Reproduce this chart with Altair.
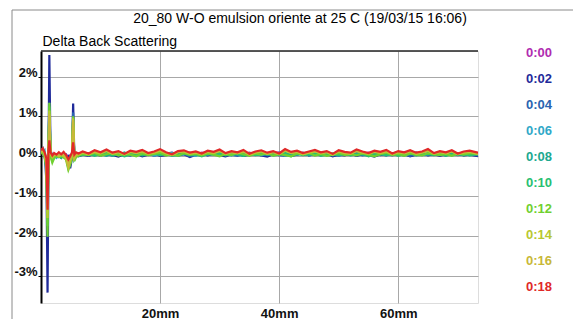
import altair as alt
import pandas as pd

# positions along the cell (mm)
x_mm = [0.0, 0.3, 0.6, 0.9, 1.1, 1.25, 1.4, 1.6, 1.9, 2.2, 2.6, 3.0, 3.4, 3.8, 4.2, 4.6, 4.9, 5.2, 5.4, 5.6, 5.9, 6.3,
        7.0, 8.0, 9.0, 10.0, 11.0, 12.0, 13.0, 14.0, 15.0, 16.0,
        17.0, 18.0, 19.0, 20.0, 21.0, 22.0, 23.0, 24.0, 25.0, 26.0,
        27.0, 28.0, 29.0, 30.0, 31.0, 32.0, 33.0, 34.0, 35.0, 36.0,
        37.0, 38.0, 39.0, 40.0, 41.0, 42.0, 43.0, 44.0, 45.0, 46.0,
        47.0, 48.0, 49.0, 50.0, 51.0, 52.0, 53.0, 54.0, 55.0, 56.0,
        57.0, 58.0, 59.0, 60.0, 61.0, 62.0, 63.0, 64.0, 65.0, 66.0,
        67.0, 68.0, 69.0, 70.0, 71.0, 72.0, 73.4]

times = ["0:00", "0:02", "0:04", "0:06", "0:08", "0:10", "0:12", "0:14", "0:16", "0:18"]
colors = ["#b02cb0", "#1f2a9a", "#2a64b0", "#30a8c8", "#20a890", "#28c070", "#70d030", "#b8c830", "#c8b838", "#e02828"]

# Delta back scattering (%) per scan time
d_0000 = [0.10, 0.12, 0.06, -0.05, -0.25, 0.10, 0.35, 0.07, 0.03, 0.02, 0.05, 0.03, 0.04, 0.02, 0.05, -0.02, 0.02, 0.04, 0.25, 0.03, 0.05, 0.04,
          0.07, 0.05, 0.09, 0.06, 0.04, 0.08, 0.10, 0.05, 0.07, 0.03,
          0.08, 0.06, 0.10, 0.04, 0.07, 0.09, 0.05, 0.08, 0.06, 0.04,
          0.09, 0.07, 0.05, 0.10, 0.06, 0.03, 0.08, 0.06, 0.09, 0.05,
          0.07, 0.04, 0.08, 0.10, 0.06, 0.05, 0.09, 0.07, 0.04, 0.08,
          0.06, 0.09, 0.05, 0.07, 0.10, 0.04, 0.08, 0.06, 0.09, 0.07,
          0.05, 0.08, 0.06, 0.04, 0.09, 0.07, 0.10, 0.05, 0.07, 0.06,
          0.08, 0.05, 0.09, 0.06, 0.07, 0.04, 0.08]
d_0002 = [0.10, 0.15, 0.00, -0.25, -3.42, -0.30, 2.54, 0.10, -0.02, 0.03, -0.02, 0.02, -0.04, 0.03, -0.06, 0.00, -0.30, -0.05, 1.32, -0.02, 0.03, 0.00,
          0.04, 0.01, 0.06, 0.02, 0.08, 0.03, -0.01, 0.05, 0.02, 0.07,
          0.00, 0.04, 0.06, 0.01, 0.03, 0.08, 0.02, 0.05, -0.02, 0.04,
          0.06, 0.02, 0.07, 0.03, 0.00, 0.05, 0.08, 0.01, 0.04, 0.06,
          0.02, -0.01, 0.05, 0.03, 0.07, 0.01, 0.04, 0.09, 0.02, 0.05,
          0.03, 0.06, 0.00, 0.04, 0.02, 0.07, 0.01, 0.05, 0.03, -0.01,
          0.05, 0.02, 0.08, 0.03, 0.06, 0.00, 0.04, 0.07, 0.02, 0.05,
          0.01, 0.06, 0.03, 0.08, 0.02, 0.04, 0.00]
d_0004 = [0.15, 0.20, 0.05, -0.59, -0.55, 0.35, 1.34, 0.15, 0.02, -0.03, 0.03, 0.00, 0.02, -0.02, 0.03, -0.18, -0.02, 0.03, 1.10, -0.08, 0.03, 0.02,
          0.05, 0.02, 0.07, 0.03, 0.06, 0.01, 0.08, 0.04, 0.02, 0.06,
          0.03, 0.07, 0.01, 0.05, 0.08, 0.02, 0.04, 0.06, 0.00, 0.05,
          0.07, 0.03, 0.06, 0.02, 0.08, 0.04, 0.01, 0.06, 0.03, 0.07,
          0.02, 0.05, 0.08, 0.03, 0.01, 0.06, 0.04, 0.07, 0.02, 0.05,
          0.08, 0.03, 0.05, 0.01, 0.06, 0.04, 0.07, 0.02, 0.05, 0.09,
          0.03, 0.06, 0.02, 0.07, 0.04, 0.01, 0.05, 0.08, 0.03, 0.06,
          0.04, 0.02, 0.07, 0.03, 0.05, 0.06, 0.02]
d_0006 = [0.12, 0.10, 0.15, -0.15, -0.95, 0.15, 0.85, 0.02, -0.03, 0.02, -0.04, 0.03, 0.00, 0.04, -0.02, -0.12, -0.08, 0.02, 0.75, -0.03, 0.04, 0.01,
          0.06, 0.03, 0.08, 0.05, 0.02, 0.07, 0.04, 0.09, 0.03, 0.06,
          0.04, 0.08, 0.02, 0.06, 0.05, 0.09, 0.03, 0.07, 0.04, 0.01,
          0.07, 0.05, 0.09, 0.03, 0.06, 0.02, 0.08, 0.04, 0.07, 0.05,
          0.03, 0.07, 0.04, 0.09, 0.02, 0.06, 0.05, 0.08, 0.03, 0.06,
          0.09, 0.04, 0.06, 0.02, 0.07, 0.05, 0.03, 0.08, 0.06, 0.04,
          0.07, 0.02, 0.05, 0.08, 0.04, 0.06, 0.09, 0.03, 0.05, 0.07,
          0.04, 0.08, 0.03, 0.06, 0.05, 0.02, 0.07]
d_0008 = [0.10, 0.16, 0.08, -0.20, -1.25, 0.10, 1.05, 0.05, -0.05, 0.00, 0.03, -0.02, 0.02, 0.00, -0.04, -0.22, -0.12, 0.00, 0.85, -0.05, 0.02, 0.03,
          0.05, 0.08, 0.03, 0.06, 0.01, 0.07, 0.04, 0.09, 0.05, 0.02,
          0.06, 0.04, 0.08, 0.03, 0.07, 0.05, 0.01, 0.06, 0.09, 0.04,
          0.02, 0.07, 0.05, 0.08, 0.03, 0.06, 0.04, 0.01, 0.07, 0.05,
          0.08, 0.03, 0.06, 0.04, 0.09, 0.02, 0.05, 0.07, 0.03, 0.06,
          0.04, 0.07, 0.02, 0.05, 0.08, 0.03, 0.06, 0.04, 0.01, 0.07,
          0.05, 0.09, 0.04, 0.06, 0.02, 0.08, 0.03, 0.05, 0.07, 0.04,
          0.06, 0.03, 0.08, 0.05, 0.02, 0.07, 0.04]
d_0010 = [0.08, 0.12, 0.03, -0.25, -1.75, 0.05, 1.25, 0.02, -0.12, -0.03, 0.02, 0.00, -0.04, 0.02, -0.02, -0.30, -0.18, -0.02, 0.95, -0.08, 0.00, 0.02,
          0.03, 0.06, 0.01, 0.05, 0.08, 0.02, 0.06, 0.00, 0.04, 0.07,
          0.02, 0.05, 0.08, 0.03, 0.06, 0.01, 0.04, 0.07, 0.03, 0.05,
          0.00, 0.06, 0.04, 0.08, 0.02, 0.05, 0.07, 0.01, 0.06, 0.03,
          0.05, 0.08, 0.02, 0.04, 0.07, 0.00, 0.06, 0.03, 0.05, 0.08,
          0.01, 0.04, 0.07, 0.03, 0.06, 0.02, 0.05, 0.08, 0.00, 0.04,
          0.06, 0.03, 0.07, 0.01, 0.05, 0.08, 0.02, 0.04, 0.06, 0.03,
          0.07, 0.01, 0.05, 0.04, 0.08, 0.02, 0.06]
d_0012 = [0.06, 0.10, 0.00, -0.30, -2.02, -0.05, 1.34, 0.00, -0.16, -0.05, 0.00, -0.02, 0.02, -0.03, -0.08, -0.34, -0.22, -0.05, 1.00, -0.12, -0.02, 0.01,
          0.06, 0.03, 0.08, 0.01, 0.05, 0.09, 0.02, 0.06, 0.04, 0.00,
          0.07, 0.03, 0.05, 0.09, 0.02, 0.06, 0.01, 0.08, 0.04, 0.06,
          0.02, 0.07, 0.04, 0.00, 0.06, 0.03, 0.09, 0.05, 0.01, 0.07,
          0.04, 0.08, 0.02, 0.06, 0.03, 0.00, 0.07, 0.05, 0.09, 0.02,
          0.06, 0.01, 0.04, 0.08, 0.03, 0.06, 0.02, 0.07, 0.04, 0.00,
          0.05, 0.09, 0.03, 0.06, 0.01, 0.07, 0.04, 0.02, 0.08, 0.05,
          0.03, 0.06, 0.01, 0.07, 0.04, 0.08, 0.05]
d_0014 = [0.10, 0.14, 0.05, -0.20, -1.55, 0.10, 1.15, 0.05, -0.03, 0.02, 0.04, 0.00, 0.03, 0.01, -0.05, -0.28, -0.12, 0.02, 0.95, -0.05, 0.03, 0.04,
          0.09, 0.05, 0.11, 0.07, 0.13, 0.06, 0.10, 0.04, 0.11, 0.08,
          0.12, 0.06, 0.09, 0.14, 0.07, 0.03, 0.10, 0.12, 0.06, 0.09,
          0.05, 0.11, 0.08, 0.13, 0.06, 0.10, 0.07, 0.12, 0.04, 0.09,
          0.12, 0.06, 0.10, 0.05, 0.14, 0.08, 0.11, 0.05, 0.09, 0.12,
          0.07, 0.10, 0.04, 0.12, 0.08, 0.06, 0.13, 0.09, 0.06, 0.11,
          0.08, 0.12, 0.05, 0.10, 0.07, 0.12, 0.06, 0.09, 0.14, 0.06,
          0.10, 0.07, 0.12, 0.05, 0.09, 0.11, 0.06]
d_0016 = [0.12, 0.16, 0.08, -0.15, -1.15, 0.12, 1.05, 0.08, 0.01, 0.04, 0.05, 0.02, 0.04, 0.03, 0.00, -0.24, -0.08, 0.04, 0.90, -0.03, 0.05, 0.06,
          0.10, 0.06, 0.12, 0.09, 0.14, 0.07, 0.11, 0.05, 0.12, 0.09,
          0.13, 0.07, 0.10, 0.15, 0.08, 0.04, 0.11, 0.13, 0.07, 0.10,
          0.06, 0.12, 0.09, 0.14, 0.07, 0.11, 0.08, 0.13, 0.05, 0.10,
          0.13, 0.07, 0.11, 0.06, 0.15, 0.09, 0.12, 0.06, 0.10, 0.13,
          0.08, 0.11, 0.05, 0.13, 0.09, 0.07, 0.14, 0.10, 0.07, 0.12,
          0.09, 0.13, 0.06, 0.11, 0.08, 0.13, 0.07, 0.10, 0.15, 0.07,
          0.11, 0.08, 0.13, 0.06, 0.10, 0.12, 0.07]
d_0018 = [0.15, 0.20, 0.10, -0.05, -1.34, 0.15, 0.40, 0.10, 0.02, 0.08, 0.04, 0.10, 0.05, 0.11, 0.03, -0.08, 0.00, 0.09, 0.35, 0.04, 0.10, 0.07,
          0.12, 0.07, 0.15, 0.10, 0.17, 0.09, 0.13, 0.06, 0.14, 0.11,
          0.16, 0.08, 0.12, 0.18, 0.10, 0.05, 0.13, 0.15, 0.09, 0.12,
          0.07, 0.14, 0.11, 0.17, 0.08, 0.13, 0.10, 0.16, 0.06, 0.12,
          0.15, 0.09, 0.13, 0.07, 0.18, 0.11, 0.14, 0.08, 0.12, 0.16,
          0.10, 0.13, 0.06, 0.15, 0.11, 0.09, 0.17, 0.12, 0.08, 0.14,
          0.11, 0.16, 0.07, 0.13, 0.10, 0.15, 0.09, 0.12, 0.18, 0.08,
          0.13, 0.10, 0.15, 0.07, 0.12, 0.14, 0.09]

series = [d_0000, d_0002, d_0004, d_0006, d_0008, d_0010, d_0012, d_0014, d_0016, d_0018]

rows = []
for t, vals in zip(times, series):
    for x, v in zip(x_mm, vals):
        rows.append({"pos": x, "delta": v, "time": t})
df = pd.DataFrame(rows)

W, H = 437, 252
FONT = "Liberation Sans"
TITLE = "20_80 W-O emulsion oriente at 25 C (19/03/15 16:06)"

lines = alt.Chart(df).mark_line(strokeWidth=2.2, clip=True).encode(
    x=alt.X("pos:Q",
            scale=alt.Scale(domain=[0, 73.4], nice=False, zero=False),
            axis=alt.Axis(values=[20, 40, 60], labelExpr="datum.value + 'mm'",
                          grid=True, gridColor="#a8a8a8", gridWidth=1,
                          domain=False, ticks=False, labelPadding=4,
                          labelFont=FONT, labelFontSize=13, labelFontWeight="bold",
                          labelColor="#111111", title=None)),
    y=alt.Y("delta:Q",
            scale=alt.Scale(domain=[-3.68, 2.64], nice=False, zero=False),
            axis=alt.Axis(values=[-3, -2, -1, 0, 1, 2], labelExpr="datum.value + '%'",
                          grid=True, gridColor="#a8a8a8", gridWidth=1,
                          domainColor="#000000", domainWidth=2,
                          tickColor="#000000", tickSize=3, labelPadding=1,
                          labelBaseline="alphabetic",
                          labelFont=FONT, labelFontSize=13, labelFontWeight="bold",
                          labelColor="#111111",
                          title="Delta Back Scattering", titleAngle=0, titleX=1, titleY=-6,
                          titleAlign="left", titleBaseline="alphabetic",
                          titleFont=FONT, titleFontSize=14, titleFontWeight="normal",
                          titleColor="#000000")),
    color=alt.Color("time:N",
                    scale=alt.Scale(domain=times, range=colors),
                    legend=alt.Legend(title=None, orient="none", legendX=472, legendY=-5,
                                      symbolSize=0, symbolOpacity=0, symbolStrokeWidth=0,
                                      labelOffset=0, rowPadding=12, padding=0,
                                      labelFont=FONT, labelFontSize=13, labelFontWeight="bold",
                                      labelColor={"expr": "scale('color', datum.value)"})),
    order=alt.Order("pos:Q"),
)

one = pd.DataFrame({"k": [0]})
top_line = alt.Chart(one).mark_rule(color="#222222", strokeWidth=1.5).encode(
    x=alt.value(0), x2=alt.value(W), y=alt.value(0))
frame_left = alt.Chart(one).mark_rule(color="#8a8a8a", strokeWidth=1).encode(
    x=alt.value(-29), y=alt.value(-41), y2=alt.value(273))
frame_top = alt.Chart(one).mark_rule(color="#8a8a8a", strokeWidth=1).encode(
    x=alt.value(-29), x2=alt.value(542), y=alt.value(-41))
title_text = alt.Chart(one).mark_text(font=FONT, fontSize=14, align="center",
                                      baseline="alphabetic", color="#000000").encode(
    x=alt.value(259), y=alt.value(-28), text=alt.value(TITLE))

chart = alt.layer(frame_left, frame_top, title_text, lines, top_line).properties(
    width=W, height=H,
    padding={"left": 33, "top": 43, "right": 95, "bottom": 16},
    autosize="none",
).configure_view(stroke=None).configure(font=FONT)

chart.save("out.html", embed_options={"renderer": "svg", "actions": False})
